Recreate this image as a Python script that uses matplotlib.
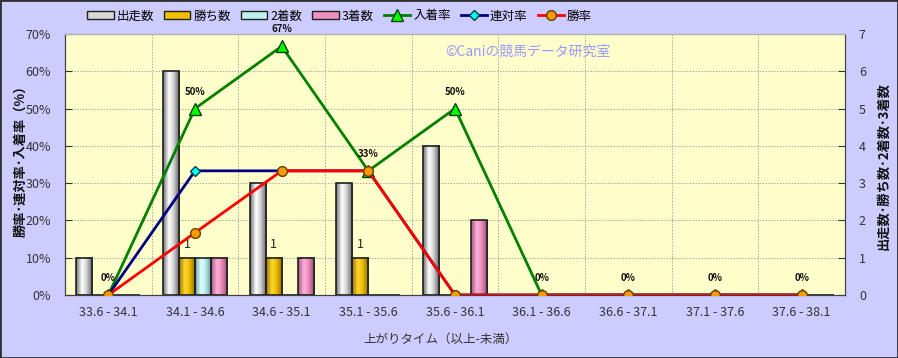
import numpy as np
import matplotlib.pyplot as plt
from matplotlib.colors import LinearSegmentedColormap
from matplotlib.patches import Patch, Rectangle

plt.rcParams['font.family'] = ['Noto Sans CJK JP', 'DejaVu Sans']
plt.rcParams['font.size'] = 9

# データ
categories = ['33.6 - 34.1', '34.1 - 34.6', '34.6 - 35.1', '35.1 - 35.6', '35.6 - 36.1',
              '36.1 - 36.6', '36.6 - 37.1', '37.1 - 37.6', '37.6 - 38.1']
runs = [1, 6, 3, 3, 4, 0, 0, 0, 0]
wins = [0, 1, 1, 1, 0, 0, 0, 0, 0]
seconds = [0, 1, 0, 0, 0, 0, 0, 0, 0]
thirds = [0, 1, 1, 0, 2, 0, 0, 0, 0]
place_rate = [0, 50, 66.7, 33.3, 50, 0, 0, 0, 0]
quinella_rate = [0, 33.3, 33.3, 33.3, 0, 0, 0, 0, 0]
win_rate = [0, 16.7, 33.3, 33.3, 0, 0, 0, 0, 0]
place_labels = ['0%', '50%', '67%', '33%', '50%', '0%', '0%', '0%', '0%']

x = np.arange(len(categories))
w = 0.185

fig = plt.figure(figsize=(8.98, 3.58), dpi=100)
fig.patch.set_facecolor('#CCCCFF')
ax1 = fig.add_axes([65 / 898, 1 - 295 / 358, 780 / 898, 261 / 358])
ax2 = ax1.twinx()
ax1.set_zorder(ax2.get_zorder() + 1)
ax1.patch.set_visible(False)
ax2.patch.set_visible(True)
ax2.patch.set_facecolor('#FFFFCC')

# 棒グラフ(グラデーション付き)
bar_specs = [
    (runs, '出走数', ['#707070', '#FFFFFF', '#D8D8D8', '#606060']),
    (wins, '勝ち数', ['#9A7400', '#FFD633', '#F0C000', '#8A6800']),
    (seconds, '2着数', ['#6E9E9E', '#DDFFFF', '#BFF0F0', '#5E8E8E']),
    (thirds, '3着数', ['#A05A80', '#FFB0D8', '#F090C0', '#904A70']),
]
bar_handles = []
for i, (vals, name, cols) in enumerate(bar_specs):
    cmap = LinearSegmentedColormap.from_list(name, list(zip([0, 0.35, 0.6, 1], cols)))
    bars = ax2.bar(x + (i - 1.5) * w, vals, w, facecolor='none', edgecolor='#202020',
                   linewidth=1.2, zorder=3)
    for b in bars:
        if b.get_height() > 0:
            ax2.imshow(np.linspace(0, 1, 64)[None, :], cmap=cmap, aspect='auto',
                       extent=(b.get_x(), b.get_x() + b.get_width(), 0, b.get_height()),
                       zorder=2, interpolation='bilinear')
    bar_handles.append(Patch(facecolor=cols[2], edgecolor='#202020', label=name))

# 勝ち数のラベル
for xi, v in zip(x, wins):
    if v > 0:
        ax2.annotate(str(v), (xi - 0.5 * w, v), xytext=(0, 13), textcoords='offset pixels',
                     ha='center', va='center', fontsize=9, color='#222222')

# 折れ線
l1, = ax1.plot(x, place_rate, color='#008000', lw=2, marker='^', ms=8,
               mfc='#00FF00', mec='#004000', label='入着率', zorder=3)
l2, = ax1.plot(x, quinella_rate, color='#000080', lw=2, marker='D', ms=5,
               mfc='#00FFFF', mec='#004040', label='連対率', zorder=4)
l3, = ax1.plot(x, win_rate, color='#FF0000', lw=2, marker='o', ms=7,
               mfc='#FF9900', mec='#604000', label='勝率', zorder=5)

for xi, v, t in zip(x, place_rate, place_labels):
    ax1.annotate(t, (xi, v), xytext=(0, 17), textcoords='offset pixels',
                 ha='center', va='center', fontsize=7, fontweight='bold', color='#111111')

# グリッド
for b in np.arange(0.5, len(categories) - 1):
    ax2.axvline(b, color='#A8A8A8', lw=0.7, ls=(0, (1.5, 1.5)), zorder=1)
ax2.set_yticks(range(0, 8))
ax2.grid(axis='y', color='#A8A8A8', lw=0.7, ls=(0, (1.5, 1.5)))
ax2.set_axisbelow(True)

ax1.set_xlim(-0.5, len(categories) - 0.5)
ax2.set_xlim(-0.5, len(categories) - 0.5)
ax1.set_ylim(0, 70)
ax2.set_ylim(0, 7)
ax1.set_yticks(range(0, 71, 10))
ax1.set_yticklabels([f'{v}%' for v in range(0, 71, 10)])
ax1.set_xticks(x)
ax1.set_xticklabels(categories)

ax1.tick_params(axis='x', length=0, pad=8, colors='#333333')
ax1.tick_params(axis='y', direction='in', length=5, pad=10, colors='#333333')
ax2.tick_params(axis='y', direction='in', length=5, pad=10, colors='#333333')

for ax in (ax1, ax2):
    for s in ax.spines.values():
        s.set_color('#404040')
    ax.spines['top'].set_color('#B0B0B0')

ax1.set_xlabel('上がりタイム（以上-未満）', fontsize=9, color='#333333')
ax1.xaxis.set_label_coords(0.482, -0.145)
fig.text(20 / 898, 1 - 158 / 358, '勝率･連対率･入着率（%）', rotation=90, fontsize=9.5,
         fontweight='bold', ha='center', va='center', color='#111111')
fig.text(883 / 898, 1 - 166 / 358, '出走数･勝ち数･2着数･3着数', rotation=90, fontsize=9.5,
         fontweight='bold', ha='center', va='center', color='#111111')

# 透かし
ax1.text(0.487, 0.93, '©Caniの競馬データ研究室', transform=ax1.transAxes,
         color='#9999FF', fontsize=10, ha='left', va='center')

# 凡例
fig.legend(handles=bar_handles + [l1, l2, l3], loc='center left',
           bbox_to_anchor=(76 / 898, 1 - 16 / 358), ncol=7, frameon=False,
           handlelength=2.1, handleheight=0.6, columnspacing=0.8, handletextpad=0.25,
           fontsize=9)

fig.add_artist(Rectangle((0, 0), 1, 1, transform=fig.transFigure, fill=False,
                         edgecolor='#303030', lw=2))

plt.savefig('out.png', dpi=100, facecolor=fig.get_facecolor())
